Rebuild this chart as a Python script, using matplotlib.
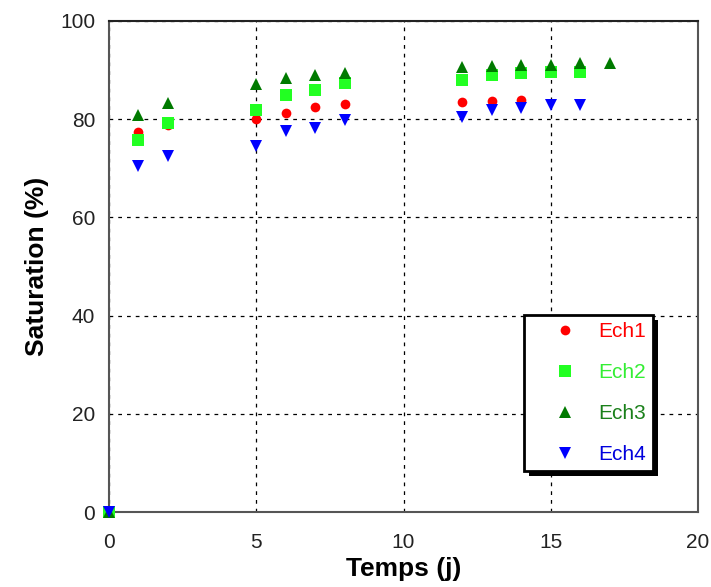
import matplotlib
matplotlib.use("Agg")
import matplotlib.pyplot as plt
from matplotlib.patches import Rectangle

# ---- data ----
x1 = [0, 1, 2, 5, 6, 7, 8, 12, 13, 14]
ech1 = [0, 77.4, 78.8, 80.0, 81.3, 82.5, 83.1, 83.5, 83.8, 83.9]

x2 = [0, 1, 2, 5, 6, 7, 8, 12, 13, 14, 15, 16]
ech2 = [0, 75.8, 79.2, 81.9, 85.0, 86.0, 87.3, 88.0, 89.1, 89.5, 89.7, 89.7]

x3 = [0, 1, 2, 5, 6, 7, 8, 12, 13, 14, 15, 16, 17]
ech3 = [0, 80.9, 83.3, 87.2, 88.3, 89.1, 89.5, 90.6, 90.8, 91.0, 91.1, 91.4, 91.5]

x4 = [0, 1, 2, 5, 6, 7, 8, 12, 13, 14, 15, 16]
ech4 = [0, 70.5, 72.5, 74.5, 77.6, 78.3, 79.8, 80.4, 81.9, 82.3, 82.9, 82.9]

labels = ["Ech1", "Ech2", "Ech3", "Ech4"]
colors = ["#ff0000", "#22ff22", "#007a00", "#0000ff"]
text_colors = ["#ff0000", "#33ee33", "#1a801a", "#0000dd"]
markers = ["o", "s", "^", "v"]
sizes = [7, 8, 8, 8]

xticks = [0, 5, 10, 15, 20]
yticks = [0, 20, 40, 60, 80, 100]

plt.rcParams['font.family'] = ['Liberation Sans', 'DejaVu Sans']

fig = plt.figure(figsize=(7.11, 5.87), dpi=100)
ax = fig.add_axes([109/711, 1-512/587, 589/711, 491/587])

series = [(x1, ech1), (x2, ech2), (x3, ech3), (x4, ech4)]
for (xs, ys), lab, c, m, s in zip(series, labels, colors, markers, sizes):
    ax.plot(xs, ys, linestyle='none', marker=m, color=c, markersize=s,
            markeredgewidth=0, label=lab, clip_on=False, zorder=3)

ax.set_xlim(0, 20)
ax.set_ylim(0, 100)
ax.set_xticks(xticks)
ax.set_yticks(yticks)
ax.tick_params(axis='both', length=0, labelsize=15, colors='#222222')
ax.tick_params(axis='x', pad=15)
ax.tick_params(axis='y', pad=10)
ax.grid(True, color='black', linestyle=(0, (3, 4)), linewidth=0.9)
ax.set_axisbelow(True)
for sp in ax.spines.values():
    sp.set_color('#555555')
    sp.set_linewidth(1.5)
ax.spines['top'].set_color('#222222')

ax.set_xlabel("Temps (j)", fontsize=19, fontweight='bold', labelpad=4)
ax.set_ylabel("Saturation (%)", fontsize=19, fontweight='bold', labelpad=8)

leg = ax.legend(loc='upper left', bbox_to_anchor=(0.705, 0.401),
                fontsize=15, frameon=True, fancybox=False, framealpha=1,
                handlelength=3.2, handletextpad=0.0, labelspacing=1.05,
                borderpad=0.35, borderaxespad=0)
leg.get_frame().set_edgecolor('black')
leg.get_frame().set_linewidth(2)
leg.get_frame().set_facecolor('white')
for t, c in zip(leg.get_texts(), text_colors):
    t.set_color(c)
leg.set_zorder(10)

fig.canvas.draw()
bb = leg.get_window_extent()
shadow = Rectangle((bb.x0 + 5, bb.y0 - 5), bb.width, bb.height,
                   transform=None, facecolor='black', edgecolor='none',
                   zorder=9)
fig.patches.append(shadow)
shadow.set_figure(fig)
leg.remove()
fig.legends.append(leg)
leg.set_figure(fig)

fig.savefig("out.png", dpi=100)
